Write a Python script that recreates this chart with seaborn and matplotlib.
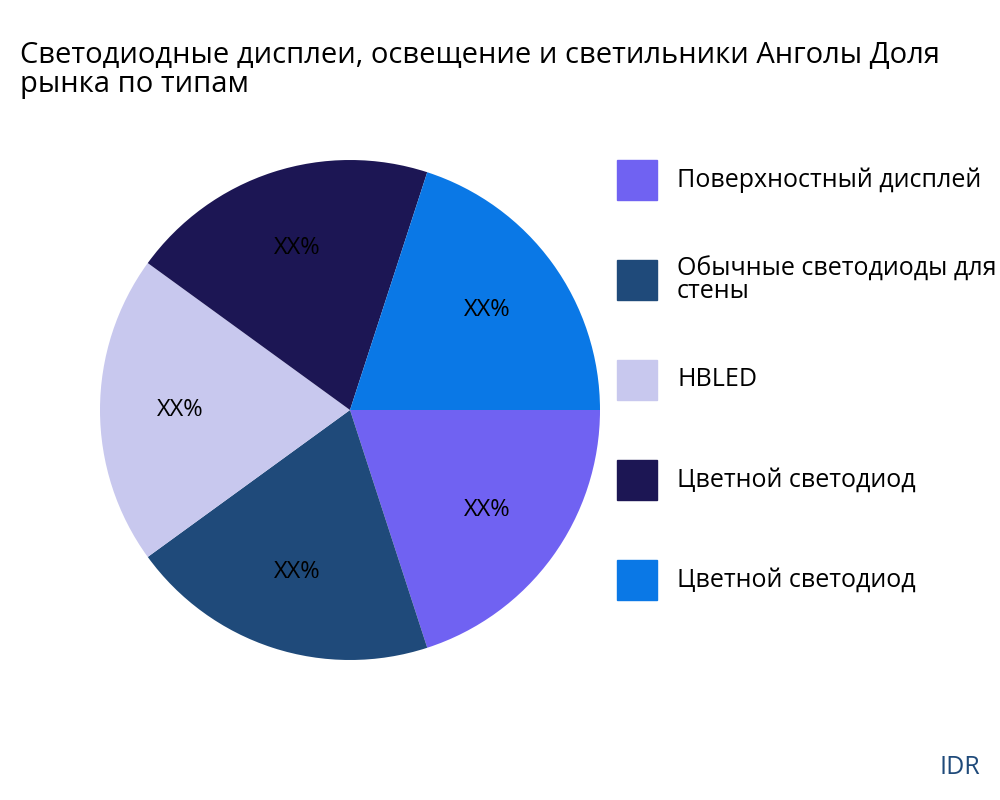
import matplotlib
matplotlib.use("Agg")
import matplotlib.pyplot as plt
import seaborn as sns
import numpy as np
from matplotlib.patches import Rectangle

# данные
categories = ["Поверхностный дисплей", "Обычные светодиоды для\nстены", "HBLED",
              "Цветной светодиод", "Цветной светодиод"]
shares = [20, 20, 20, 20, 20]
pct_labels = ["XX%", "XX%", "XX%", "XX%", "XX%"]
colors = ["#7062F2", "#1F4A7A", "#C8C8EE", "#1C1654", "#0A78E6"]

sns.set_theme(style="white")
plt.rcParams['font.family'] = ['Open Sans', 'DejaVu Sans']

fig = plt.figure(figsize=(10, 8), dpi=100)
ax = fig.add_axes([0.1, 0.175, 0.5, 0.625])
wedges, texts = ax.pie(shares, colors=colors, startangle=0, counterclock=False,
                       radius=1, wedgeprops=dict(linewidth=0))
for w, lab in zip(wedges, pct_labels):
    ang = np.deg2rad((w.theta1 + w.theta2) / 2)
    ax.text(0.68 * np.cos(ang), 0.68 * np.sin(ang), lab, ha="center", va="center",
            fontsize=17, color="black")
ax.set_xlim(-1, 1)
ax.set_ylim(-1, 1)
ax.set_aspect("equal")

fig.text(0.02, 0.913, "Светодиодные дисплеи, освещение и светильники Анголы Доля\nрынка по типам",
         fontsize=21, va="center", ha="left", linespacing=1.0, color="black")

# легенда вручную
for i, (lab, c) in enumerate(zip(categories, colors)):
    yc = 1 - (180 + 100 * i) / 800
    fig.patches.append(Rectangle((0.617, yc - 0.025), 0.04, 0.05, color=c,
                                 transform=fig.transFigure, figure=fig))
    fig.text(0.677, yc, lab, fontsize=18, va="center", ha="left",
             linespacing=0.85, color="black")

fig.text(0.98, 0.04, "IDR", fontsize=18, color="#1F4A7A", ha="right", va="center")

fig.savefig("out.png", dpi=100)
